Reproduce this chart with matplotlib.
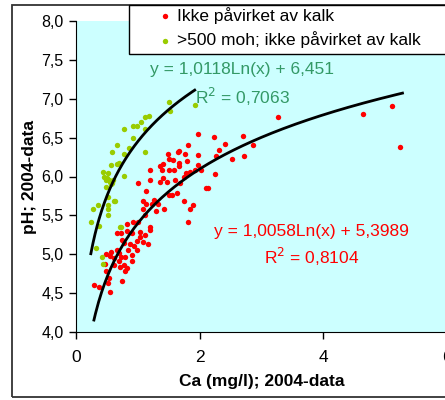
import numpy as np
import matplotlib
matplotlib.use("Agg")
import matplotlib.pyplot as plt
from matplotlib.patches import Rectangle
from matplotlib.ticker import FuncFormatter

plt.rcParams['font.family'] = ['Liberation Sans', 'DejaVu Sans']

# Ikke påvirket av kalk (Ca mg/l, pH)
rod_x = [1.48, 1.65, 1.77, 1.98, 1.51, 1.57, 1.41, 1.36, 1.66, 1.79, 1.97, 1.51, 1.58, 1.67,
         1.39, 1.20, 1.78, 1.85, 1.93, 2.02, 1.74, 1.68, 1.60, 1.47, 1.36, 1.40, 1.19, 1.01,
         2.25, 2.11, 2.14, 1.14, 1.64, 1.50, 1.55, 1.26, 1.08, 1.14, 1.23, 1.33, 1.74, 1.90,
         1.85, 1.43, 1.30, 1.08, 1.12, 1.81, 0.82, 0.92, 1.01, 1.19, 1.19, 0.67, 0.72, 0.82,
         0.90, 1.03, 1.12, 1.03, 0.98, 1.08, 0.74, 0.77, 0.88, 0.93, 1.17, 0.98, 0.84, 0.66,
         0.56, 0.49, 0.55, 0.70, 0.72, 0.79, 0.62, 0.90, 0.90, 0.70, 0.47, 0.77, 0.82, 0.79,
         0.61, 0.71, 0.49, 0.54, 0.52, 0.74, 0.29, 0.38, 0.55,
         3.26, 4.64, 5.11, 5.24, 2.23, 2.70, 2.41, 2.32, 2.86, 2.52, 2.72, 2.27,
         1.97, 1.81, 1.66]
rod_y = [6.29, 6.32, 6.29, 6.28, 6.23, 6.21, 6.16, 6.14, 6.18, 6.20, 6.15, 6.08, 6.09, 6.13,
         6.09, 6.08, 6.04, 6.06, 6.09, 6.08, 6.00, 5.91, 5.96, 5.93, 5.93, 5.98, 5.96, 5.92,
         6.03, 5.85, 5.85, 5.81, 5.79, 5.76, 5.76, 5.70, 5.69, 5.65, 5.65, 5.65, 5.69, 5.63,
         5.58, 5.58, 5.56, 5.58, 5.50, 5.42, 5.39, 5.42, 5.42, 5.35, 5.31, 5.27, 5.27, 5.30,
         5.27, 5.29, 5.25, 5.22, 5.17, 5.16, 5.18, 5.15, 5.13, 5.10, 5.13, 5.06, 5.06, 5.06,
         5.03, 5.00, 4.98, 5.01, 4.96, 4.96, 4.95, 4.99, 4.91, 4.91, 4.88, 4.86, 4.82, 4.78,
         4.86, 4.84, 4.78, 4.70, 4.63, 4.66, 4.60, 4.58, 4.52,
         6.76, 6.81, 6.91, 6.38, 6.51, 6.52, 6.42, 6.34, 6.40, 6.22, 6.27, 6.26,
         6.55, 6.40, 6.33]

# >500 moh; ikke påvirket av kalk
gronn_x = [1.50, 1.52, 1.92, 1.18, 1.12, 0.98, 0.92, 0.78, 1.12, 0.92, 0.85, 0.67, 0.78,
           0.58, 1.12, 0.66, 0.70, 0.44, 0.52, 0.46, 0.55, 0.59, 0.78, 0.48, 0.56, 0.50,
           0.53, 0.57, 0.49, 0.60, 0.52, 0.62, 0.36, 0.51, 0.51, 0.28, 0.51, 0.24, 0.38,
           0.72, 0.33, 0.42, 0.44, 0.63, 0.71, 1.05]
gronn_y = [6.96, 6.84, 6.92, 6.78, 6.76, 6.65, 6.65, 6.61, 6.61, 6.50, 6.37, 6.40, 6.29,
           6.31, 6.31, 6.16, 6.17, 6.06, 6.04, 6.00, 5.93, 5.92, 6.01, 5.87, 6.15, 5.98,
           5.95, 5.90, 5.96, 5.95, 5.74, 5.68, 5.63, 5.63, 5.58, 5.58, 5.51, 5.41, 5.36,
           5.35, 5.08, 4.96, 4.87, 5.69, 5.35, 6.70]

# trendlinjer: y = a*Ln(x) + b
rod_a, rod_b, rod_r2 = 1.0058, 5.3989, 0.8104
gronn_a, gronn_b, gronn_r2 = 1.0118, 6.451, 0.7063

rod_navn = "Ikke påvirket av kalk"
gronn_navn = ">500 moh; ikke påvirket av kalk"

rod = "#FF0000"
gronn = "#99CC00"
gronn_tekst = "#339966"

fig = plt.figure(figsize=(4.45, 4.0), dpi=100)
ax = fig.add_axes([76/445, 1 - 332/400, 371/445, 311/400])
ax.set_facecolor("#CCFFFF")

s1 = ax.scatter(rod_x, rod_y, s=15, color=rod, linewidths=0, zorder=3, label=rod_navn)
s2 = ax.scatter(gronn_x, gronn_y, s=15, color=gronn, linewidths=0, zorder=3, label=gronn_navn)

xr = np.linspace(min(rod_x), max(rod_x) + 0.04, 200)
ax.plot(xr, rod_a * np.log(xr) + rod_b, color="black", lw=2, zorder=4)
xg = np.linspace(min(gronn_x), max(gronn_x), 200)
ax.plot(xg, gronn_a * np.log(xg) + gronn_b, color="black", lw=2, zorder=4)

def komma(v):
    return f"{v:.4f}".rstrip("0").replace(".", ",")

ax.text(2.69, 7.37, f"y = {gronn_a:.4f}Ln(x) + {gronn_b:.3f}".replace(".", ","),
        color=gronn_tekst, fontsize=12.5, ha="center", va="center", zorder=5)
ax.text(2.69, 7.02, "R$^2$ = " + komma(gronn_r2), color=gronn_tekst, fontsize=12.5,
        ha="center", va="center", zorder=5)
ax.text(3.81, 5.29, f"y = {rod_a:.4f}Ln(x) + {rod_b:.4f}".replace(".", ","),
        color=rod, fontsize=12.5, ha="center", va="center", zorder=5)
ax.text(3.81, 4.96, "R$^2$ = " + komma(rod_r2), color=rod, fontsize=12.5,
        ha="center", va="center", zorder=5)

ax.set_xlim(0, 6)
ax.set_ylim(4.0, 8.0)
ax.set_xticks([0, 2, 4, 6])
ax.set_yticks(np.arange(4.0, 8.01, 0.5))
ax.yaxis.set_major_formatter(FuncFormatter(lambda v, p: f"{v:.1f}".replace(".", ",")))
ax.tick_params(axis="y", direction="out", length=5, width=1, pad=4, labelsize=11.5)
ax.tick_params(axis="x", direction="out", length=5, width=1, pad=8, labelsize=12.5)
ax.spines["top"].set_visible(False)
ax.spines["right"].set_visible(False)

ax.set_xlabel("Ca (mg/l); 2004-data", fontsize=12.5, fontweight="bold")
ax.xaxis.label.set_va("center")
ax.xaxis.set_label_coords(0.5, -0.158)
ax.set_ylabel("pH; 2004-data", fontsize=12.5, fontweight="bold")
ax.yaxis.label.set_va("center")
ax.yaxis.set_label_coords(-0.124, 0.5)

# ytre ramme og legendeboks
fig.patches.append(Rectangle((12/445, 3/400), 1.2, 392/400, transform=fig.transFigure,
                             fill=False, edgecolor="#333333", lw=1.3, zorder=0))
fig.patches.append(Rectangle((129/445, 1 - 54/400), 1.2, 49/400, transform=fig.transFigure,
                             facecolor="white", edgecolor="black", lw=1, zorder=5))
leg = fig.legend(handles=[s1, s2], loc="upper left", bbox_to_anchor=(158/445, 1 - 7/400),
                 frameon=False, fontsize=12.5, handlelength=0.8, handletextpad=0.3,
                 labelspacing=0.42, borderpad=0, borderaxespad=0, markerscale=1)
leg.set_zorder(6)

plt.savefig("out.png", dpi=100)
